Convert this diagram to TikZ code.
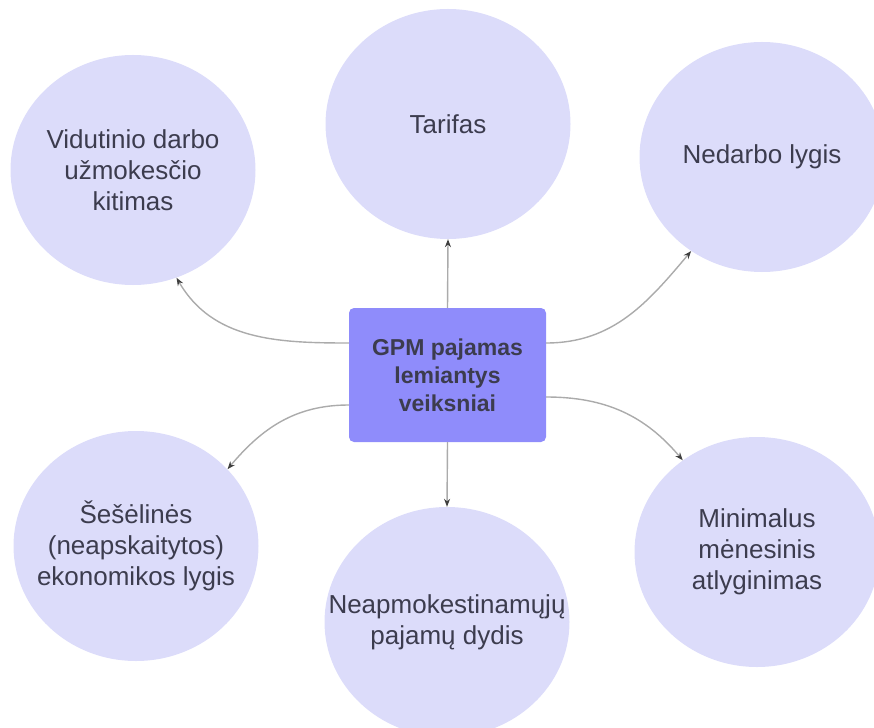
\documentclass[tikz,border=0pt]{standalone}
\usepackage{fontspec}
\setmainfont{Liberation Sans}
\usetikzlibrary{shapes.geometric,arrows.meta}
\definecolor{spRatas}{HTML}{DCDCFA}
\definecolor{spBlokas}{HTML}{8F8CFB}
\definecolor{spTekstas}{HTML}{3C3C4E}
\definecolor{spLinija}{HTML}{ABABAB}
\tikzset{
	ratas/.style={ellipse, fill=spRatas, minimum width=245pt, minimum height=230pt, inner xsep=-45pt, inner ysep=0pt, align=center, text=spTekstas, font=\fontsize{26}{31}\selectfont},
	blokas/.style={rectangle, rounded corners=5pt, fill=spBlokas, minimum width=197pt, minimum height=134pt, align=center, text=spTekstas, font=\fontsize{23}{28}\selectfont\bfseries},
	rodykle/.style={draw=spLinija, line width=1.4pt, -{Stealth[length=8pt,width=6pt,color=black!75]}}
}
\begin{document}
\begin{tikzpicture}[x=1pt,y=-1pt]
		\clip ( 0, 0 ) rectangle ( 874, 727 );

		% centrinis blokas
		\node [blokas] (gpm) at ( 447.5, 375 ) {GPM pajamas\\lemiantys\\veiksniai};

		% veiksniai virsuje
		\node [ratas] (vid) at ( 133, 170 ) {Vidutinio darbo\\užmokesčio\\kitimas};
		\node [ratas] (tar) at ( 448, 124 ) {Tarifas};
		\node [ratas] (ned) at ( 762, 157 ) {Nedarbo lygis};

		% veiksniai apacioje
		\node [ratas] (ses) at ( 136, 546 ) {Šešėlinės\\(neapskaitytos)\\ekonomikos lygis};
		\node [ratas] (nea) at ( 447, 622 ) {Neapmokestinamųjų\\pajamų dydis};
		\node [ratas] (min) at ( 757, 552 ) {Minimalus\\mėnesinis\\atlyginimas};

		% rodykles
		\draw [rodykle] (gpm.north) -- (tar.south);
		\draw [rodykle] (gpm.south) -- (nea.north);
		\draw [rodykle] ([yshift=32pt]gpm.west) to [out=180, in=-60] (vid.-68);
		\draw [rodykle] ([yshift=32pt]gpm.east) to [out=0, in=-130] (ned.-127);
		\draw [rodykle] ([yshift=-30pt]gpm.west) to [out=180, in=50] (ses.40);
		\draw [rodykle] ([yshift=-22pt]gpm.east) to [out=0, in=130] (min.129);
	\end{tikzpicture}
\end{document}
